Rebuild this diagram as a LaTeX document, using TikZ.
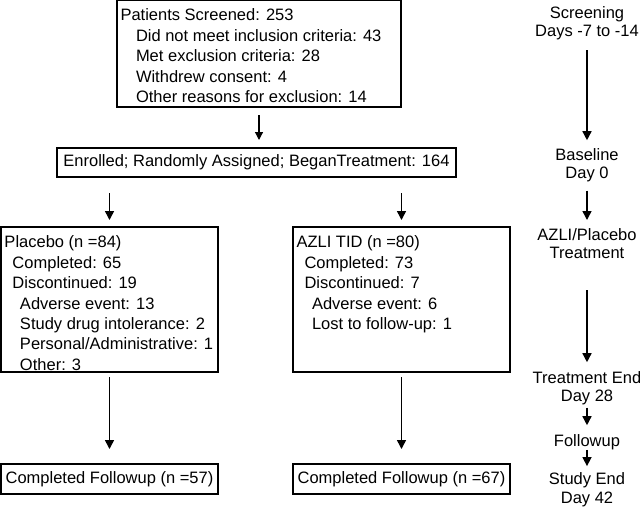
\documentclass[tikz,border=0pt]{standalone}
\usepackage{fontspec}
\setmainfont{Liberation Sans}
\usetikzlibrary{arrows.meta}

\begin{document}
\begin{tikzpicture}[x=1pt, y=-1pt, font=\fontsize{16.5}{20.4}\selectfont,
	box/.style={rectangle, draw, line width=1.3pt, outer sep=0pt, inner xsep=3.5pt, inner ysep=6.7pt, anchor=north west},
	plainbox/.style={rectangle, draw, line width=1.3pt, outer sep=0pt},
	flow/.style={-{Triangle[length=9pt, width=9pt]}, line width=1.5pt},
	stage/.style={align=center, inner sep=0pt, anchor=north, font=\fontsize{16.5}{18.6}\selectfont}]

\useasboundingbox (0, 0) rectangle (640, 507);

\node(screen) [box] at (117, 0) {\parbox[t][93.6pt][t]{277pt}{\strut Patients Screened: 253\\
	\hspace*{15.5pt}Did not meet inclusion criteria: 43\\
	\hspace*{15.5pt}Met exclusion criteria: 28\\
	\hspace*{15.5pt}Withdrew consent: 4\\
	\hspace*{15.5pt}Other reasons for exclusion: 14}};

\node(enrol) [plainbox, minimum width=399pt, minimum height=29pt] at (256.5, 162.5) {Enrolled; Randomly Assigned; BeganTreatment: 164};

\node(placebo) [box] at (1, 227) {\parbox[t][131.6pt][t]{210pt}{\strut Placebo (n =84)\\
	\hspace*{8pt}Completed: 65\\
	\hspace*{8pt}Discontinued: 19\\
	\hspace*{15.5pt}Adverse event: 13\\
	\hspace*{15.5pt}Study drug intolerance: 2\\
	\hspace*{15.5pt}Personal/Administrative: 1\\
	\hspace*{15.5pt}Other: 3}};

\node(azli) [box] at (293, 227) {\parbox[t][131.6pt][t]{210pt}{\strut AZLI TID (n =80)\\
	\hspace*{8pt}Completed: 73\\
	\hspace*{8pt}Discontinued: 7\\
	\hspace*{15.5pt}Adverse event: 6\\
	\hspace*{15.5pt}Lost to follow-up: 1}};

\node(plfollow) [plainbox, minimum width=217pt, minimum height=30pt] at (109.5, 479) {Completed Followup (n =57)};
\node(azfollow) [plainbox, minimum width=217pt, minimum height=30pt] at (401.5, 479) {Completed Followup (n =67)};

\node(scr) [stage] at (587, 6.2) {Screening\\Days -7 to -14};
\node(base) [stage] at (587, 148.2) {Baseline\\Day 0};
\node(treat) [stage] at (587, 228) {AZLI/Placebo\\Treatment};
\node(tend) [stage] at (587, 371.2) {Treatment End\\Day 28};
\node(fup) [stage] at (587, 434.2) {Followup};
\node(send) [stage] at (587, 472.6) {Study End\\Day 42};

\draw [flow, line width=1.2pt, -{Triangle[length=8pt, width=8pt]}, shorten <=8pt, shorten >=8pt] (screen.south) -- (screen.south |- enrol.north);
\draw [flow, shorten <=16pt, shorten >=7pt] (placebo.north |- enrol.south) -- (placebo.north);
\draw [flow, shorten <=16pt, shorten >=7pt] (azli.north |- enrol.south) -- (azli.north);
\draw [flow, shorten <=5pt, shorten >=15pt] (placebo.south) -- (plfollow.north);
\draw [flow, shorten <=5pt, shorten >=15pt] (azli.south) -- (azfollow.north);

\draw [flow, shorten <=9.5pt, shorten >=8pt] (scr) -- (base);
\draw [flow, shorten <=8pt, shorten >=8pt] (base) -- (treat);
\draw [flow, shorten <=31pt, shorten >=9pt] (treat) -- (tend);
\draw [flow, shorten <=2pt, shorten >=9pt] (tend) -- (fup);
\draw [flow, shorten >=6.5pt] (fup) -- (send);

\end{tikzpicture}
\end{document}
